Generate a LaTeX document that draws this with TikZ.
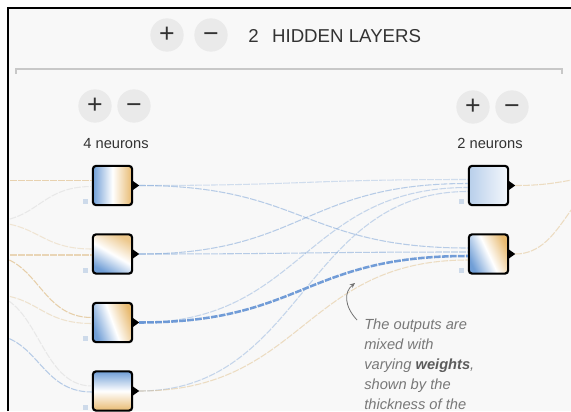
\documentclass[tikz,border=0pt]{standalone}
\usepackage{fontspec}
\setmainfont{Liberation Sans}
\usetikzlibrary{calc,shadows,arrows.meta}
\definecolor{nblue}{RGB}{112,158,214}
\definecolor{norange}{RGB}{232,186,112}
\definecolor{bg}{RGB}{248,248,248}
\definecolor{btngray}{RGB}{234,234,234}
\definecolor{ink}{RGB}{51,51,51}
\definecolor{bias}{RGB}{205,218,234}
\definecolor{lblue}{RGB}{118,160,214}
\definecolor{dblue}{RGB}{90,140,210}
\definecolor{lorange}{RGB}{222,186,128}
\definecolor{notegray}{RGB}{120,120,120}
\tikzset{
  neuron/.style={draw=black, line width=1.6pt, rounded corners=2.5pt, minimum size=29.5pt, inner sep=0pt,
    drop shadow={opacity=0.15, shadow xshift=0.6pt, shadow yshift=-0.8pt}},
  btn/.style={circle, fill=btngray, minimum size=25pt, inner sep=0pt, text=ink, font=\fontsize{20}{20}\selectfont},
  link/.style={line width=0.8pt, dash pattern=on 5pt off 1pt},
  label/.style={inner sep=0pt, text=ink, font=\fontsize{11}{13}\selectfont},
}
\begin{document}
\begin{tikzpicture}[x=0.75pt, y=-0.75pt]
	\useasboundingbox (0,0) rectangle (571,411);
	\fill[white] (0,0) rectangle (571,411);
	\fill[bg] (8,8) rectangle (571,411);
	\begin{scope}
	\clip (8,8) rectangle (571,411);
	% header
	\node[btn] (addl) at (167,35) {+};
	\node[btn] (subl) at (211,35) {\vphantom{+}−};
	\node[anchor=base west, inner sep=0pt, text=ink, font=\fontsize{14}{14}\selectfont] (title) at (248,42) {2\hspace{0.72em}HIDDEN LAYERS};
	\draw[draw={rgb,255:red,200;green,200;blue,200}, line width=0.9pt] (16,74) -- (16,69) -- (562,69) -- (562,74);
	\node[btn] (add1) at (95,106) {+};
	\node[btn] (sub1) at (134,106) {\vphantom{+}−};
	\node[btn] (add2) at (473,107) {+};
	\node[btn] (sub2) at (512,107) {\vphantom{+}−};
	\node[label, anchor=base] (cnt1) at (116,148) {4 neurons};
	\node[label, anchor=base] (cnt2) at (490,148) {2 neurons};
	% neurons
	\node[neuron, top color=norange, bottom color=nblue, middle color=white, shading angle=-90] (n1) at (112.5,185.5) {};
	\node[neuron, top color=norange!80!white, bottom color=nblue, middle color=white, shading angle=-30] (n2) at (112.5,254) {};
	\node[neuron, top color=norange, bottom color=nblue, middle color=white, shading angle=-70] (n3) at (112.5,322.5) {};
	\node[neuron, top color=nblue, bottom color=norange, middle color=white, shading angle=0] (n4) at (112.5,391) {};
	\node[neuron, top color=nblue!8!white, bottom color=nblue!50!white, middle color=nblue!28!white, shading angle=-90] (m1) at (488.5,185.5) {};
	\node[neuron, top color=norange, bottom color=nblue, middle color=white, shading angle=-65] (m2) at (488.5,254) {};
	\foreach \n in {n1,n2,n3,n4,m1,m2} {
		\fill ($(\n.east)+(-1,-5)$) -- ($(\n.east)+(6,0)$) -- ($(\n.east)+(-1,5)$) -- cycle;
		\fill[bias] ($(\n.south west)+(-9,-2)$) rectangle +(5,-5);
		\coordinate (\n-o) at ($(\n.east)+(6,0)$);
	}
	\foreach \n in {n1,n2,n3,n4} {
		\coordinate (\n-a) at ($(\n.west)+(0,-5)$);
		\coordinate (\n-b) at ($(\n.west)+(0,1)$);
	}
	\foreach \n in {m1,m2} {
		\coordinate (\n-a) at ($(\n.west)+(0,-6)$);
		\coordinate (\n-b) at ($(\n.west)+(0,-2)$);
		\coordinate (\n-c) at ($(\n.west)+(0,2)$);
		\coordinate (\n-d) at ($(\n.west)+(0,6)$);
	}
	\coordinate (i1) at (-14,180.5);
	\coordinate (i2) at (-14,222);
	\coordinate (i3) at (-14,255);
	\coordinate (i4) at (-14,294);
	\coordinate (i5) at (-14,334);
	\coordinate (out) at (620,176);
	% inputs to first layer
	\draw[link, lorange, opacity=.6] (i1) .. controls +(53,0) and +(-53,0) .. (n1-a);
	\draw[link, gray!30, opacity=.5] (i2) .. controls +(53,0) and +(-53,0) .. (n1-b);
	\draw[link, lorange, opacity=.3] (i2) .. controls +(53,0) and +(-53,0) .. (n2-a);
	\draw[link, lorange, opacity=.55] (i3) .. controls +(53,0) and +(-53,0) .. (n2-b);
	\draw[link, lorange, opacity=.65] (i3) .. controls +(53,0) and +(-53,0) .. (n3-a);
	\draw[link, lorange, opacity=.35] (i4) .. controls +(53,0) and +(-53,0) .. (n3-b);
	\draw[link, gray!30, opacity=.5] (i4) .. controls +(53,0) and +(-53,0) .. (n4-a);
	\draw[link, lblue, opacity=.5] (i5) .. controls +(53,0) and +(-53,0) .. (n4-b);
	% first layer to second layer
	\draw[link, lblue, opacity=.3] (n1-o) .. controls +(164,0) and +(-164,0) .. (m1-a);
	\draw[link, lblue, opacity=.5] (n1-o) .. controls +(164,0) and +(-164,0) .. (m2-a);
	\draw[link, lblue, opacity=.5] (n2-o) .. controls +(164,0) and +(-164,0) .. (m1-b);
	\draw[link, lblue, opacity=.5] (n2-o) .. controls +(164,0) and +(-164,0) .. (m2-b);
	\draw[link, lblue, opacity=.4] (n3-o) .. controls +(164,0) and +(-164,0) .. (m1-c);
	\draw[link, dblue, opacity=.85, line width=1.9pt] (n3-o) .. controls +(164,0) and +(-164,0) .. (m2-c);
	\draw[link, lblue, opacity=.4] (n4-o) .. controls +(164,0) and +(-164,0) .. (m1-d);
	\draw[link, lorange, opacity=.45] (n4-o) .. controls +(164,0) and +(-164,0) .. (m2-d);
	% second layer to output
	\draw[link, lorange, opacity=.45] (m1-o) .. controls +(50,0) and +(-50,0) .. (out);
	\draw[link, lorange, opacity=.45] (m2-o) .. controls +(50,0) and +(-50,0) .. (out);
	% note
	\node[anchor=north west, align=left, inner sep=0pt, text=notegray, font=\fontsize{11}{15}\selectfont\itshape] (note) at (364,319)
		{The outputs are\\mixed with\\varying \textcolor{ink!80}{\textbf{weights}},\\shown by the\\thickness of the};
	\coordinate (note-s) at (357,320);
	\coordinate (note-t) at (355,283);
	\draw[-{Stealth[length=4pt, width=3.5pt]}, draw=gray!90!black, line width=0.6pt] (note-s) .. controls (344,306) and (344,292) .. (note-t);
	\end{scope}
	\draw[line width=1.3pt] (8,411) -- (8,8) -- (571,8);
\end{tikzpicture}
\end{document}
